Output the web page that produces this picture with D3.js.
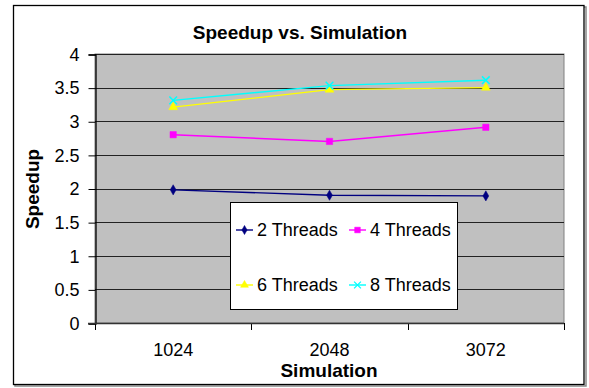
<!DOCTYPE html>
<html>
<head>
<meta charset="utf-8">
<script src="https://cdn.jsdelivr.net/npm/d3@7"></script>
<style>
  body { margin: 0; background: #fff; }
  text { font-family: "Liberation Sans", Arial, sans-serif; fill: #000; }
</style>
</head>
<body>
<svg width="589" height="388"></svg>
<script>
const categories = ['1024', '2048', '3072']
const threads2 = [1.98, 1.90, 1.89]
const threads4 = [2.80, 2.70, 2.91]
const threads6 = [3.21, 3.47, 3.50]
const threads8 = [3.31, 3.53, 3.61]
const yTicks = [0, 0.5, 1, 1.5, 2, 2.5, 3, 3.5, 4]

const series = [
    { name: '2 Threads', values: threads2, color: '#000080', marker: 'diamond' },
    { name: '4 Threads', values: threads4, color: '#ff00ff', marker: 'square' },
    { name: '6 Threads', values: threads6, color: '#ffff00', marker: 'triangle' },
    { name: '8 Threads', values: threads8, color: '#00ffff', marker: 'x' }
]

const svg = d3.select('svg')

// outer frame with shadow
svg.append('rect')
    .attr('x', 15).attr('y', 7).attr('width', 571).attr('height', 379)
    .attr('fill', 'none').attr('stroke', '#888').attr('stroke-width', 1.5)
svg.append('rect')
    .attr('x', 13.5).attr('y', 5.5).attr('width', 570.5).attr('height', 379)
    .attr('fill', '#fff').attr('stroke', '#000').attr('stroke-width', 1.3)

const plot = { left: 95, right: 564, top: 54, bottom: 323 }

const xScale = d3.scaleBand()
    .domain(categories)
    .range([plot.left, plot.right])

const yScale = d3.scaleLinear()
    .domain([0, 4])
    .range([plot.bottom, plot.top])

// plot area
svg.append('rect')
    .attr('x', plot.left).attr('y', plot.top)
    .attr('width', plot.right - plot.left).attr('height', plot.bottom - plot.top)
    .attr('fill', '#c0c0c0').attr('stroke', '#808080').attr('stroke-width', 1)

// gridlines
svg.append('g')
    .selectAll('line')
    .data(yTicks.filter(d => d > 0))
    .enter()
    .append('line')
    .attr('x1', plot.left).attr('x2', plot.right)
    .attr('y1', d => Math.round(yScale(d)) + 0.5)
    .attr('y2', d => Math.round(yScale(d)) + 0.5)
    .attr('stroke', '#222').attr('stroke-width', 1)

// y axis
const yAxis = svg.append('g')
    .attr('transform', `translate(${plot.left + 0.5},0.5)`)
    .call(d3.axisLeft(yScale).tickValues(yTicks).tickFormat(d3.format('')).tickSize(7).tickPadding(9))
yAxis.select('.domain').attr('stroke', '#000').attr('stroke-width', 1.3)
yAxis.selectAll('.tick line').attr('stroke', '#000')
yAxis.selectAll('.tick text')
    .attr('font-size', 18)
    .attr('font-family', '"Liberation Sans", Arial, sans-serif')
    .attr('fill', '#000')

// x axis, ticks on band edges
const xAxisG = svg.append('g')
svg.append('line')
    .attr('x1', plot.left - 7).attr('x2', plot.right)
    .attr('y1', plot.bottom + 0.5).attr('y2', plot.bottom + 0.5)
    .attr('stroke', '#333').attr('stroke-width', 1.3)
const edges = categories.map(c => xScale(c)).concat([xScale.range()[1]])
xAxisG.selectAll('line.edge')
    .data(edges)
    .enter()
    .append('line')
    .attr('x1', d => Math.round(d) + 0.5).attr('x2', d => Math.round(d) + 0.5)
    .attr('y1', plot.bottom).attr('y2', plot.bottom + 7)
    .attr('stroke', '#000')
xAxisG.selectAll('text')
    .data(categories)
    .enter()
    .append('text')
    .attr('x', d => xScale(d) + xScale.bandwidth() / 2)
    .attr('y', 356)
    .attr('text-anchor', 'middle')
    .attr('font-size', 18)
    .text(d => d)

// lines
const line = d3.line()
    .x((d, i) => xScale(categories[i]) + xScale.bandwidth() / 2)
    .y(d => yScale(d))

const markerPath = (type, size) => {
    if (type === 'diamond') return d3.symbol(d3.symbolDiamond, size)()
    if (type === 'square') return d3.symbol(d3.symbolSquare, size)()
    if (type === 'triangle') return d3.symbol(d3.symbolTriangle, size)()
    return d3.symbol(d3.symbolTimes, size)()
}
const markerSize = { diamond: 30, square: 40, triangle: 34, x: 40 }

series.forEach(s => {
    svg.append('path')
        .datum(s.values)
        .attr('d', line)
        .attr('fill', 'none')
        .attr('stroke', s.color)
        .attr('stroke-width', 1.4)
    svg.selectAll(null)
        .data(s.values)
        .enter()
        .append('path')
        .attr('transform', (d, i) => `translate(${xScale(categories[i]) + xScale.bandwidth() / 2},${yScale(d)})`)
        .attr('d', markerPath(s.marker, markerSize[s.marker]))
        .attr('fill', s.marker === 'x' ? 'none' : s.color)
        .attr('stroke', s.color)
        .attr('stroke-width', s.marker === 'x' ? 1.5 : 0.5)
})

// legend
const legend = svg.append('g')
legend.append('rect')
    .attr('x', 230.5).attr('y', 202.5).attr('width', 227).attr('height', 107)
    .attr('fill', '#fff').attr('stroke', '#000').attr('stroke-width', 1)

const legendPos = [
    { x: 236, y: 230 }, { x: 349, y: 230 },
    { x: 236, y: 285 }, { x: 349, y: 285 }
]
series.forEach((s, i) => {
    const p = legendPos[i]
    const g = legend.append('g').attr('transform', `translate(${p.x},${p.y})`)
    g.append('line')
        .attr('x1', 0).attr('x2', 17).attr('y1', 0).attr('y2', 0)
        .attr('stroke', s.color).attr('stroke-width', 1.4)
    g.append('path')
        .attr('transform', 'translate(8.5,0)')
        .attr('d', markerPath(s.marker, markerSize[s.marker] * 0.8))
        .attr('fill', s.marker === 'x' ? 'none' : s.color)
        .attr('stroke', s.color)
        .attr('stroke-width', s.marker === 'x' ? 1.3 : 0.5)
    g.append('text')
        .attr('x', 21).attr('y', 0)
        .attr('dy', '0.35em')
        .attr('font-size', 18)
        .text(s.name)
})

// titles
svg.append('text')
    .attr('x', 300).attr('y', 39)
    .attr('text-anchor', 'middle')
    .attr('font-size', 19).attr('font-weight', 'bold')
    .text('Speedup vs. Simulation')

svg.append('text')
    .attr('x', 329).attr('y', 377)
    .attr('text-anchor', 'middle')
    .attr('font-size', 19).attr('font-weight', 'bold')
    .text('Simulation')

svg.append('text')
    .attr('transform', 'translate(39,189) rotate(-90)')
    .attr('text-anchor', 'middle')
    .attr('font-size', 19).attr('font-weight', 'bold')
    .text('Speedup')
</script>
</body>
</html>
